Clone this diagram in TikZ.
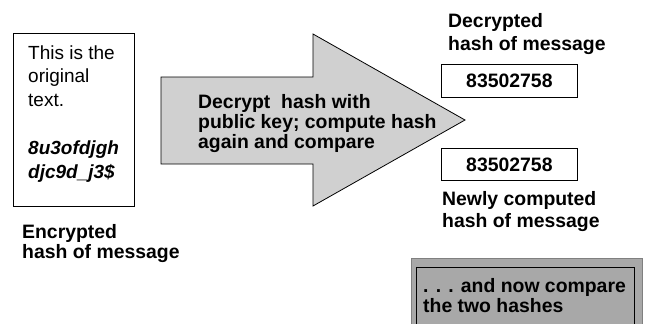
\documentclass[tikz,border=0pt]{standalone}
\usepackage{fontspec}
\setmainfont{Liberation Sans}
\definecolor{arrowgray}{HTML}{D0D0D0}
\definecolor{boxgray}{HTML}{A8A8A8}
\definecolor{boxline}{HTML}{808080}
\begin{document}
\begin{tikzpicture}[x=1pt,y=-1pt,
  txt/.style={inner sep=0pt, anchor=base west, align=left},
  reg/.style={font=\fontsize{19}{23.8}\selectfont},
  bld/.style={font=\bfseries\fontsize{19.4}{#1}\selectfont},
  bx/.style={draw=black, line width=0.8pt, inner sep=0pt, anchor=north west},
]
\useasboundingbox (0,0) rectangle (651,324);
\clip (0,0) rectangle (651,324);
% original text box
\node[bx, minimum width=121pt, minimum height=173pt] (orig) at (13,33) {};
\node[txt, reg] (origtxt) at (28,178) {This is the\\original\\text.\\[23.8pt]\textbf{\textit{8u3ofdjgh}}\\\textbf{\textit{djc9d\_j3\$}}};
\node[txt, bld=20] (enclab) at (22,258) {Encrypted\\hash of message};
% big arrow
\draw[fill=arrowgray, line width=0.8pt] (161,77) -- (313,77) -- (313,34) -- (465,120) -- (313,206) -- (313,164) -- (161,164) -- cycle;
\node[txt, bld=20] (arrowtxt) at (198,148) {Decrypt\ \ hash with\\public key; compute hash\\again and compare};
% right side
\node[txt, bld=23] (declab) at (448,50) {Decrypted\\hash of message};
\node[bx, bld=20, minimum width=136pt, minimum height=33pt] (h1) at (441,64) {83502758};
\node[bx, bld=20, minimum width=136pt, minimum height=32pt] (h2) at (441,148) {83502758};
\node[txt, bld=22] (newlab) at (442,227) {Newly computed\\hash of message};
% bottom box
\node[draw=boxline, fill=boxgray, line width=0.8pt, inner sep=0pt, anchor=north west, minimum width=231pt, minimum height=80pt] (outerbox) at (411,258) {};
\node[draw=black, fill=boxgray, line width=0.6pt, inner sep=0pt, anchor=north west, minimum width=218pt, minimum height=80pt] (innerbox) at (416,267) {};
\node[txt, bld=20] (cmp) at (423,312) {. . . and now compare\\the two hashes};
\end{tikzpicture}
\end{document}
